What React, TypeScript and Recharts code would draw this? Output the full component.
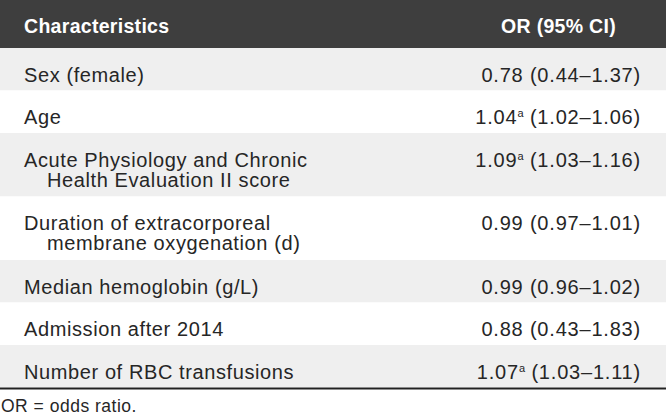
import { ComposedChart, ReferenceArea, ReferenceLine, XAxis, YAxis } from "recharts";

const W = 666;
const H = 417;

// table content
const headers = ["Characteristics", "OR (95% CI)"];
const characteristics = [
  ["Sex (female)"],
  ["Age"],
  ["Acute Physiology and Chronic", "Health Evaluation II score"],
  ["Duration of extracorporeal", "membrane oxygenation (d)"],
  ["Median hemoglobin (g/L)"],
  ["Admission after 2014"],
  ["Number of RBC transfusions"],
];
const oddsRatios = ["0.78", "1.04", "1.09", "0.99", "0.99", "0.88", "1.07"];
const ciLower = ["0.44", "1.02", "1.03", "0.97", "0.96", "0.43", "1.03"];
const ciUpper = ["1.37", "1.06", "1.16", "1.01", "1.02", "1.83", "1.11"];
const footnoteMark = ["", "a", "a", "", "", "", "a"];
const footnote = "OR = odds ratio.";

const HEADER_H = 48;
const ROW_H = 42.5;
const LINE_H = 21;
const FONT = "'Liberation Sans', Arial, Helvetica, sans-serif";
const TEXT = "#262626";

// row bands built from line counts
let cursor = HEADER_H;
const rows = characteristics.map((lines, i) => {
  const top = cursor;
  const bottom = top + ROW_H + (lines.length - 1) * LINE_H;
  cursor = bottom;
  return { lines, or: oddsRatios[i], lo: ciLower[i], hi: ciUpper[i], mark: footnoteMark[i], top, bottom, shaded: i % 2 === 0 };
});
const tableBottom = cursor;

function RowLabel({ viewBox, row }: any) {
  const { x, y, width } = viewBox;
  const base = y + 33.5;
  return (
    <g fontFamily={FONT} fontSize={20} fill={TEXT} letterSpacing={0.6}>
      {row.lines.map((t: string, j: number) => (
        <text key={j} x={x + (j === 0 ? 24 : 47)} y={base + j * 20}>
          {t}
        </text>
      ))}
      <text x={x + width - 25} y={base} textAnchor="end" letterSpacing={0.8}>
        <tspan>{row.or}</tspan>
        {row.mark ? (
          <tspan fontSize={11} dy={-7} letterSpacing={0}>
            {row.mark}
          </tspan>
        ) : null}
        <tspan dy={row.mark ? 7 : 0}>{` (${row.lo}\u2013${row.hi})`}</tspan>
      </text>
    </g>
  );
}

function HeaderLabel({ viewBox }: any) {
  const { x, y, width } = viewBox;
  return (
    <g fontFamily={FONT} fontSize={19.5} fontWeight="bold" fill="#ffffff" letterSpacing={0.3}>
      <text x={x + 24} y={y + 32.5}>{headers[0]}</text>
      <text x={x + width - 50} y={y + 32.5} textAnchor="end">{headers[1]}</text>
    </g>
  );
}

function FootLabel({ viewBox }: any) {
  const { x, y } = viewBox;
  return (
    <text x={x + 1} y={y + 22} fontFamily={FONT} fontSize={17.5} fill={TEXT} letterSpacing={0.5}>
      {footnote}
    </text>
  );
}

export default function App() {
  return (
    <div style={{ position: "absolute", left: 0, top: 0, width: W, height: H, background: "#ffffff" }}>
      <ComposedChart width={W} height={H} margin={{ top: 0, right: 0, bottom: 0, left: 0 }} data={rows}>
        <XAxis type="number" domain={[0, W]} hide allowDataOverflow />
        <YAxis type="number" domain={[0, H]} reversed hide allowDataOverflow />
        <ReferenceArea
          y1={0}
          y2={HEADER_H}
          fill="#3e3e3e"
          fillOpacity={1}
          ifOverflow="visible"
          label={{ content: (p: any) => <HeaderLabel {...p} /> }}
        />
        {rows.map((row, i) => (
          <ReferenceArea
            key={i}
            y1={row.top}
            y2={row.bottom}
            fill={row.shaded ? "#efefef" : "#ffffff"}
            fillOpacity={1}
            ifOverflow="visible"
            label={{ content: (p: any) => <RowLabel {...p} row={row} /> }}
          />
        ))}
        <ReferenceLine y={tableBottom + 1} stroke="#222222" strokeWidth={2} />
        <ReferenceArea
          y1={tableBottom + 2}
          y2={H}
          fill="#ffffff"
          fillOpacity={0}
          ifOverflow="visible"
          label={{ content: (p: any) => <FootLabel {...p} /> }}
        />
      </ComposedChart>
    </div>
  );
}
